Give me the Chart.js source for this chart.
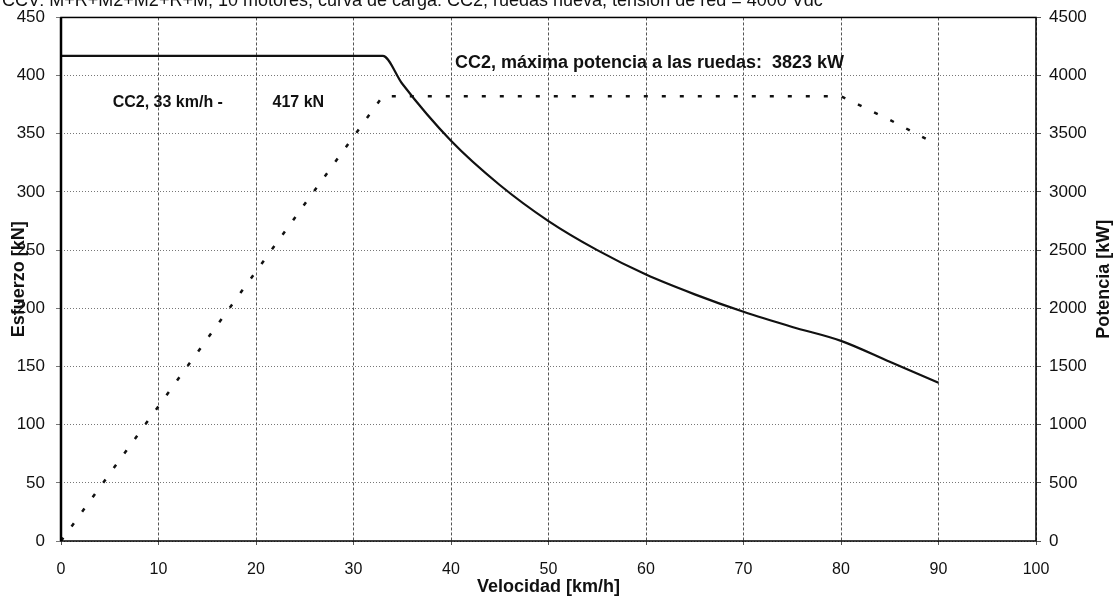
<!DOCTYPE html>
<html>
<head>
<meta charset="utf-8">
<script src="https://cdn.jsdelivr.net/npm/chart.js@4/dist/chart.umd.min.js"></script>
<style>
  html, body { margin: 0; padding: 0; background: #fff; }
  #wrap { width: 1116px; height: 600px; }
</style>
</head>
<body>
<div id="wrap"><canvas id="grafico" width="1116" height="600"></canvas></div>
<script>
// curva de esfuerzo (kN) - eje izquierdo
var velEsfuerzo = [0, 33, 35, 40, 45, 50, 55, 60, 65, 70, 75, 80, 85, 90];
var esfuerzo = [417, 417, 393, 344, 306, 275, 250, 229, 212, 197, 184, 172, 154, 136];

// curva de potencia (kW) - eje derecho
var velPotencia = [0, 33, 80, 85, 90];
var potencia = [0, 3823, 3823, 3620, 3400];

var ticksVel = [0, 10, 20, 30, 40, 50, 60, 70, 80, 90, 100];
var ticksEsf = [0, 50, 100, 150, 200, 250, 300, 350, 400, 450];
var ticksPot = [0, 500, 1000, 1500, 2000, 2500, 3000, 3500, 4000, 4500];

var titulo = "CCV: M+R+M2+M2+R+M, 10 motores, curva de carga: CC2, ruedas nueva, tensión de red = 4000 Vdc";
var etiquetas = [
  { x: 5.3, y: 377, tam: 16, txt: "CC2, 33 km/h -" },
  { x: 21.7, y: 377, tam: 16, txt: "417 kN" },
  { x: 40.4, y: 410.6, tam: 18, txt: "CC2, máxima potencia a las ruedas:  3823 kW" }
];

var fuente = "'Liberation Sans', Arial, sans-serif";

function puntos(xs, ys) {
  var r = [];
  for (var i = 0; i < xs.length; i++) r.push({ x: xs[i], y: ys[i] });
  return r;
}

var textos = {
  id: 'textos',
  afterDraw: function(chart) {
    var ctx = chart.ctx;
    var sx = chart.scales.x, sy = chart.scales.y;
    var area = chart.chartArea;
    ctx.save();
    ctx.fillStyle = '#111';
    // titulo cortado arriba
    ctx.font = "18px " + fuente;
    ctx.textAlign = 'left';
    ctx.textBaseline = 'alphabetic';
    ctx.fillText(titulo, 2, 6);
    // etiquetas dentro del grafico
    ctx.textBaseline = 'middle';
    etiquetas.forEach(function(e) {
      ctx.font = "bold " + e.tam + "px " + fuente;
      ctx.fillText(e.txt, sx.getPixelForValue(e.x), sy.getPixelForValue(e.y));
    });
    // titulos de ejes
    var cy = (area.top + area.bottom) / 2;
    ctx.font = "bold 18px " + fuente;
    ctx.textAlign = 'center';
    ctx.save();
    ctx.translate(19, cy);
    ctx.rotate(-Math.PI / 2);
    ctx.fillText("Esfuerzo [kN]", 0, 0);
    ctx.restore();
    ctx.save();
    ctx.translate(1104, cy);
    ctx.rotate(-Math.PI / 2);
    ctx.fillText("Potencia [kW]", 0, 0);
    ctx.restore();
    ctx.restore();
    // borde del area
    ctx.save();
    ctx.strokeStyle = '#000';
    ctx.lineWidth = 1.5;
    ctx.strokeRect(area.left, area.top, area.right - area.left, area.bottom - area.top);
    ctx.lineWidth = 2.5;
    ctx.beginPath();
    ctx.moveTo(area.left, area.top);
    ctx.lineTo(area.left, area.bottom);
    ctx.stroke();
    ctx.restore();
  }
};

function sinComa(v) { return String(v); }

var ctx = document.getElementById('grafico').getContext('2d');
var grafico = new Chart(ctx, {
  type: 'line',
  data: {
    datasets: [
      {
        label: 'Esfuerzo',
        data: puntos(velEsfuerzo, esfuerzo),
        yAxisID: 'y',
        borderColor: '#111',
        borderWidth: 2.2,
        pointRadius: 0,
        cubicInterpolationMode: 'monotone',
        fill: false
      },
      {
        label: 'Potencia',
        data: puntos(velPotencia, potencia),
        yAxisID: 'y2',
        borderColor: '#111',
        borderWidth: 2.5,
        borderDash: [4, 14],
        pointRadius: 0,
        tension: 0,
        fill: false
      }
    ]
  },
  plugins: [textos],
  options: {
    responsive: false,
    animation: false,
    layout: { padding: { top: 15, left: 0, right: 0, bottom: 0 } },
    plugins: {
      legend: { display: false },
      tooltip: { enabled: false }
    },
    scales: {
      x: {
        type: 'linear',
        min: 0, max: 100,
        afterBuildTicks: function(s) { s.ticks = ticksVel.map(function(v) { return { value: v }; }); },
        afterFit: function(s) { s.height = 59; },
        grid: { color: '#555', lineWidth: 1, tickLength: 4 },
        border: { display: false, dash: [3, 2] },
        ticks: { color: '#111', font: { family: fuente, size: 16 }, padding: 15, maxRotation: 0, callback: sinComa },
        title: { display: true, text: 'Velocidad [km/h]', color: '#111', font: { family: fuente, size: 18, weight: 'bold' }, padding: { top: 0, bottom: 2 } }
      },
      y: {
        position: 'left',
        min: 0, max: 450,
        afterBuildTicks: function(s) { s.ticks = ticksEsf.map(function(v) { return { value: v }; }); },
        afterFit: function(s) { s.width = 61; },
        grid: { color: '#777', lineWidth: 1, tickLength: 5 },
        border: { display: false, dash: [1, 2] },
        ticks: { color: '#111', font: { family: fuente, size: 17, lineHeight: 0.76 }, padding: 11, callback: sinComa }
      },
      y2: {
        position: 'right',
        min: 0, max: 4500,
        afterBuildTicks: function(s) { s.ticks = ticksPot.map(function(v) { return { value: v }; }); },
        afterFit: function(s) { s.width = 80; },
        grid: { drawOnChartArea: false, tickLength: 5, color: '#555' },
        border: { display: false },
        ticks: { color: '#111', font: { family: fuente, size: 17, lineHeight: 0.76 }, padding: 8, callback: sinComa }
      }
    }
  }
});
</script>
</body>
</html>
